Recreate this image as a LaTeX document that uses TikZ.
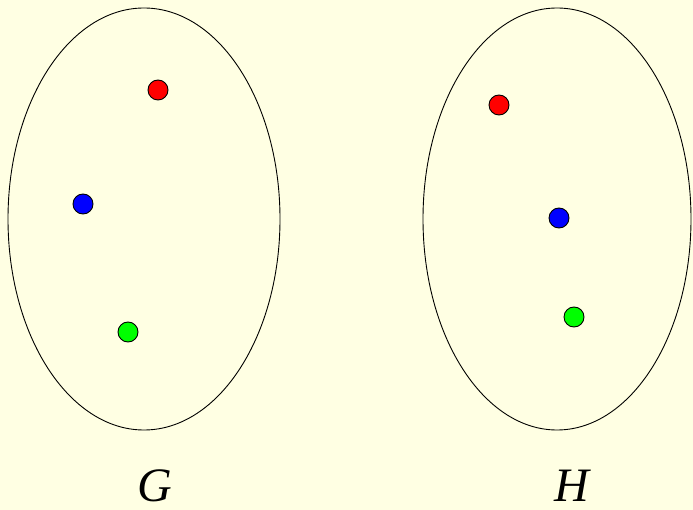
\documentclass[tikz,border=0pt]{standalone}
\usepackage{fontspec}
\setmainfont{Liberation Serif}
\usepackage{tikz}
\usetikzlibrary{shapes.geometric}
\definecolor{paper}{RGB}{255,255,227}

\begin{document}
\begin{tikzpicture}[x=1pt,y=-1pt,
  graph/.style={ellipse,draw,black,line width=0.9pt,inner sep=0pt},
  vtx/.style={circle,draw,black,line width=0.9pt,minimum size=20pt,inner sep=0pt},
  lbl/.style={font=\fontsize{48}{52}\selectfont\itshape,anchor=base,inner sep=0pt}]

\fill[paper] (0,0) rectangle (693,510);
\useasboundingbox (0,0) rectangle (693,510);

\node[graph,minimum width=272pt,minimum height=422pt] (G) at (144,219) {};
\node[graph,minimum width=268pt,minimum height=422pt] (H) at (557,219) {};

\node[vtx,fill=red]   (gr) at (158,90)  {};
\node[vtx,fill=blue]  (gb) at (83,204)  {};
\node[vtx,fill=green] (gg) at (128,332) {};

\node[vtx,fill=red]   (hr) at (499,105) {};
\node[vtx,fill=blue]  (hb) at (559,218) {};
\node[vtx,fill=green] (hg) at (574,317) {};

\node[lbl] (lg) at (155,501) {G};
\node[lbl] (lh) at (572,501) {H};
\end{tikzpicture}
\end{document}
